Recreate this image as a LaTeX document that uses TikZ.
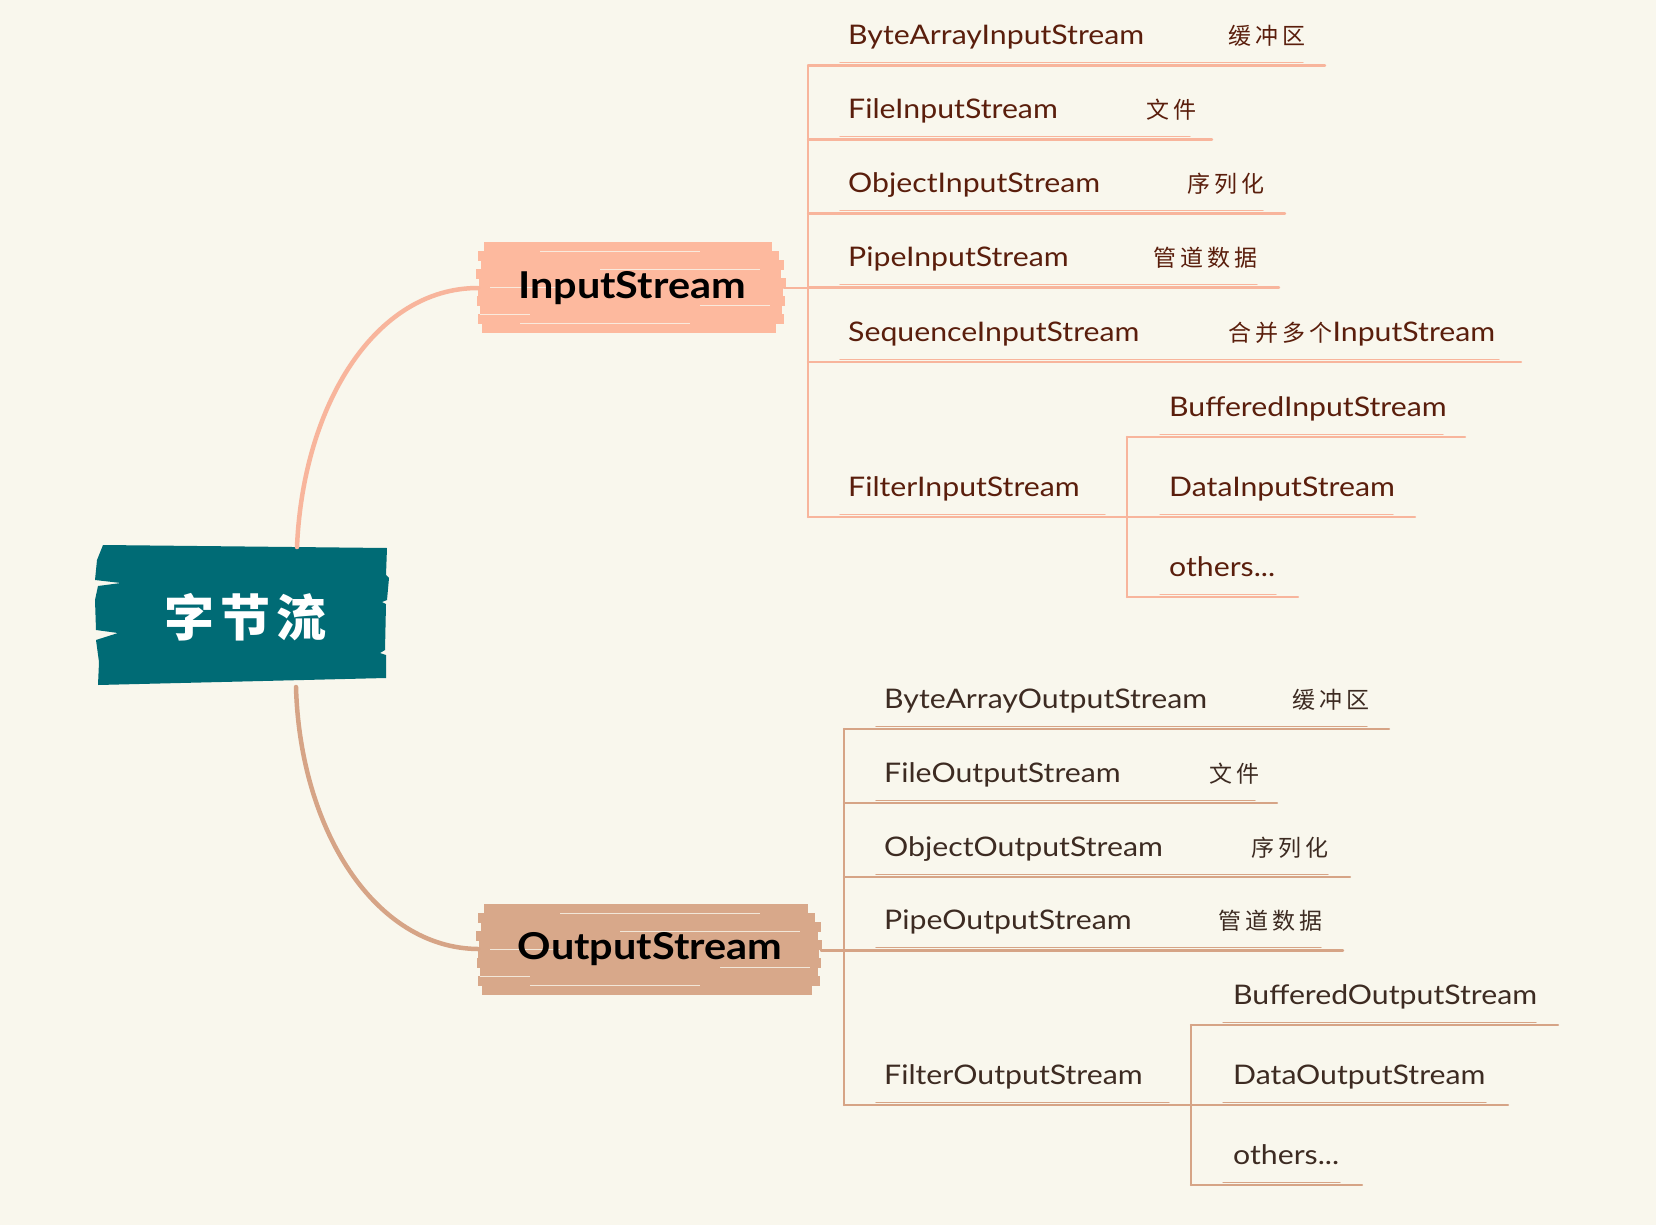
\documentclass[tikz,border=0pt]{standalone}
\usepackage{fontspec}
\setmainfont{Lato}[FakeStretch=1.12]
\newfontfamily\cjk{Noto Sans CJK SC}[LetterSpace=18]
\newfontfamily\cjkroot{Noto Sans CJK SC}[LetterSpace=12]
\definecolor{bg}{HTML}{F9F7ED}
\definecolor{teal}{HTML}{006B75}
\definecolor{infill}{HTML}{FDB99E}
\definecolor{outfill}{HTML}{D8A88A}
\definecolor{inline}{HTML}{F8B59C}
\definecolor{outline}{HTML}{D6A486}
\definecolor{intext}{HTML}{5A1E0C}
\definecolor{outtext}{HTML}{3D2B22}
\tikzset{
  lbl/.style={anchor=base west, inner sep=0pt, font=\fontsize{27}{30}\selectfont},
  inlbl/.style={lbl, text=intext},
  outlbl/.style={lbl, text=outtext},
  cjklbl/.style={anchor=base west, inner sep=0pt, font=\cjk\fontsize{23}{28}\selectfont},
  incjk/.style={cjklbl, text=intext},
  outcjk/.style={cjklbl, text=outtext},
  topic/.style={inner sep=0pt, font=\bfseries\fontsize{37}{42}\selectfont, text=black},
  branch/.style={line width=2.4pt, line cap=round},
  curveline/.style={line width=4.5pt, line cap=round},
}
% sketchy underline: colour, x0 (junction), x1 (start), x2 (end), y
\newcommand\sketchul[5]{%
  \draw[branch,#1] (#2,#5) -- (#4,#5);
  \draw[#1, line width=1.1pt, line cap=round, shift={(8,-2.6)}] (#3,#5) -- (#4-30,#5);
}
\begin{document}
\begin{tikzpicture}[x=1pt,y=-1pt]
\useasboundingbox (0,0) rectangle (1656,1225);
\fill[bg] (0,0) rectangle (1656,1225);

% ---------- root ----------
\fill[teal] (103,545) -- (387,548) -- (386,575) -- (389,578) -- (387,600) -- (382,602) -- (386,604)
  -- (385,650) -- (380,653) -- (386,655) -- (386,678) -- (98,685) -- (99,662) -- (96,640)
  -- (118,633) -- (96,630) -- (95,600) -- (98,586) -- (121,583) -- (95,580) -- (97,560) -- cycle;
\node[text=white, font=\cjkroot\bfseries\fontsize{50}{56}\selectfont, inner sep=0pt] (root) at (245,617) {字节流};

% ---------- InputStream brush box ----------
\foreach \yy/\a/\b in {247/484/772, 256/478/779, 265/481/784, 274/476/781, 283/479/786,
                       292/478/783, 301/477/785, 310/480/782, 319/478/784, 328/482/776}
  \draw[infill, line width=10pt] (\a,\yy) -- (\b,\yy);
\foreach \yy/\a/\b in {251/540/700, 269/600/760, 287/490/560, 305/700/770, 323/520/690, 314/480/530}
  \draw[bg, line width=0.9pt, opacity=.8] (\a,\yy) -- (\b,\yy);
\node[topic] (in) at (632,288) {InputStream};

% ---------- OutputStream brush box ----------
\foreach \yy/\a/\b in {909/484/808, 918/478/815, 927/481/821, 936/476/818, 945/479/822,
                       954/478/819, 963/477/821, 972/480/818, 981/478/820, 990/482/812}
  \draw[outfill, line width=10pt] (\a,\yy) -- (\b,\yy);
\foreach \yy/\a/\b in {913/560/760, 931/620/800, 949/490/560, 967/720/810, 985/530/700, 976/480/530}
  \draw[bg, line width=0.9pt, opacity=.8] (\a,\yy) -- (\b,\yy);
\node[topic] (out) at (650,949) {OutputStream};

% ---------- main curves ----------
\draw[curveline, inline] (297,547) .. controls (303,405) and (375,288) .. (in.west -| 478,288);
\draw[curveline, outline] (296,687) .. controls (300,830) and (375,948) .. (out.west -| 478,948);

% ---------- InputStream children ----------
\draw[branch, inline] (784,288) -- (808,288);
\draw[branch, inline] (808,65.5) -- (808,517);
\sketchul{inline}{808}{832}{1325}{65.5}
\sketchul{inline}{808}{832}{1212}{139.5}
\sketchul{inline}{808}{832}{1285}{213.5}
\sketchul{inline}{808}{832}{1279}{287.5}
\sketchul{inline}{808}{832}{1521}{362}
\sketchul{inline}{808}{832}{1127}{517}
\node[inlbl] (bais) at (848,44.5) {ByteArrayInputStream};
\node[incjk] (baisd) at (1228,44.5) {缓冲区};
\node[inlbl] (fis) at (848,118.5) {FileInputStream};
\node[incjk] (fisd) at (1146,118.5) {文件};
\node[inlbl] (ois) at (848,192.5) {ObjectInputStream};
\node[incjk] (oisd) at (1187,192.5) {序列化};
\node[inlbl] (pis) at (848,266.5) {PipeInputStream};
\node[incjk] (pisd) at (1153,266.5) {管道数据};
\node[inlbl] (sis) at (848,341) {SequenceInputStream};
\node[inlbl] (sisd) at (1228,341) {{\cjk\fontsize{23}{28}\selectfont 合并多个}InputStream};
\node[inlbl] (filis) at (848,496) {FilterInputStream};
% sub
\draw[branch, inline] (1127,437) -- (1127,597);
\sketchul{inline}{1127}{1152}{1465}{437}
\sketchul{inline}{1127}{1152}{1415}{517}
\sketchul{inline}{1127}{1152}{1298}{597}
\node[inlbl] (bis) at (1169,416) {BufferedInputStream};
\node[inlbl] (dis) at (1169,496) {DataInputStream};
\node[inlbl] (oth1) at (1169,576) {others...};

% ---------- OutputStream children ----------
\draw[branch, outline] (821,950.5) -- (844,950.5);
\draw[branch, outline] (844,729) -- (844,1105);
\sketchul{outline}{844}{868}{1389}{729}
\sketchul{outline}{844}{868}{1277}{803}
\sketchul{outline}{844}{868}{1350}{877}
\sketchul{outline}{844}{868}{1343}{950.5}
\sketchul{outline}{844}{868}{1191}{1105}
\node[outlbl] (baos) at (884,708) {ByteArrayOutputStream};
\node[outcjk] (baosd) at (1292,708) {缓冲区};
\node[outlbl] (fos) at (884,782) {FileOutputStream};
\node[outcjk] (fosd) at (1209,782) {文件};
\node[outlbl] (oos) at (884,856) {ObjectOutputStream};
\node[outcjk] (oosd) at (1251,856) {序列化};
\node[outlbl] (pos) at (884,929.5) {PipeOutputStream};
\node[outcjk] (posd) at (1218,929.5) {管道数据};
\node[outlbl] (filos) at (884,1084) {FilterOutputStream};
% sub
\draw[branch, outline] (1191,1025) -- (1191,1185);
\sketchul{outline}{1191}{1215}{1558}{1025}
\sketchul{outline}{1191}{1215}{1508}{1105}
\sketchul{outline}{1191}{1215}{1362}{1185}
\node[outlbl] (bos) at (1233,1004) {BufferedOutputStream};
\node[outlbl] (dos) at (1233,1084) {DataOutputStream};
\node[outlbl] (oth2) at (1233,1164) {others...};
\end{tikzpicture}
\end{document}
